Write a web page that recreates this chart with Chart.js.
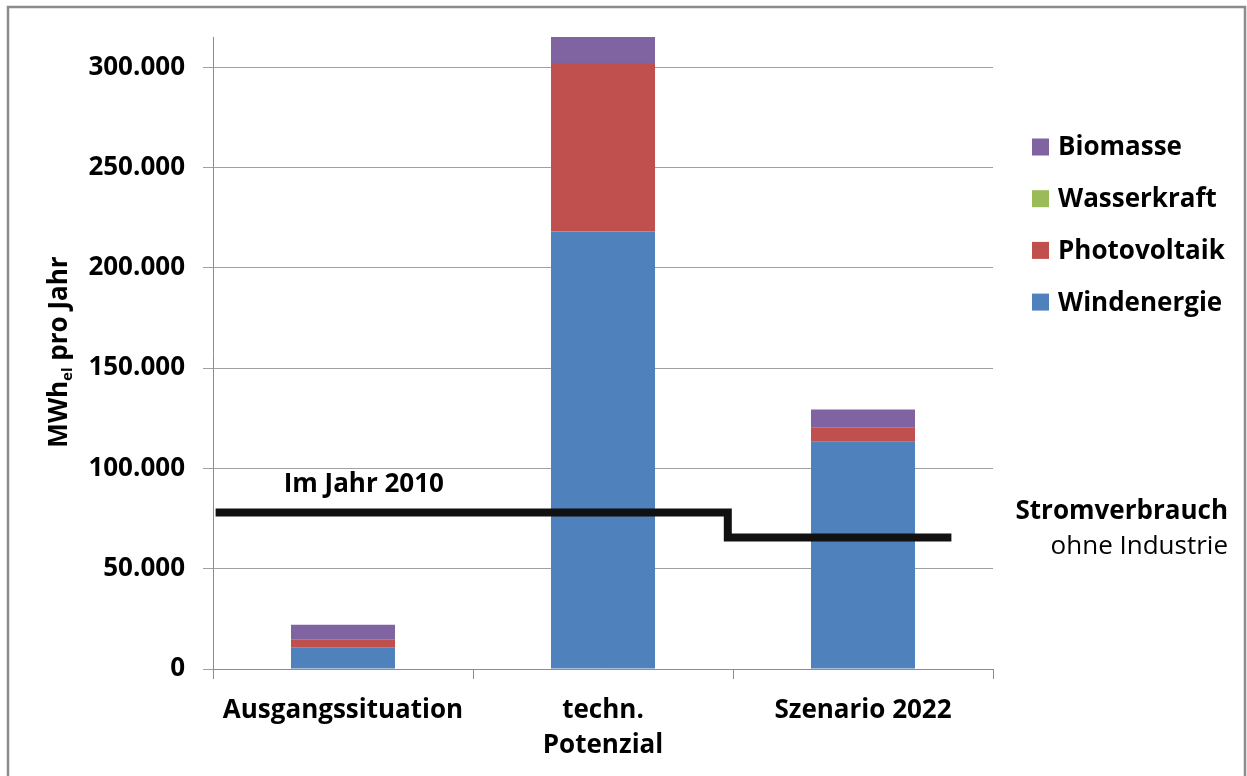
<!DOCTYPE html>
<html>
<head>
<meta charset="utf-8">
<title>Stromerzeugung erneuerbare Energien</title>
<script src="https://cdn.jsdelivr.net/npm/chart.js@4.4.1/dist/chart.umd.min.js"></script>
<style>
    html, body { margin: 0; padding: 0; background: #fff; }
    canvas { display: block; }
</style>
</head>
<body>
<canvas id="chart" width="1247" height="776"></canvas>
<script>
// Kategorien und Werte (MWh_el pro Jahr)
const categories = ['Ausgangssituation', ['techn.', 'Potenzial'], 'Szenario 2022'];
const windenergie = [10800, 218000, 113300];
const photovoltaik = [3800, 84000, 7000];
const wasserkraft = [0, 0, 0];
const biomasse = [7500, 13000, 9100];

// Stromverbrauch ohne Industrie als Stufenlinie
const verbrauchX = [-0.49, 1.48, 1.48, 2.34];
const verbrauchY = [78000, 78000, 65500, 65500];

const yTicks = [0, 50000, 100000, 150000, 200000, 250000, 300000];
const yMax = 315000;

const FONT = '"Open Sans", sans-serif';
Chart.defaults.font.family = FONT;
Chart.defaults.color = '#000';

function fmt(v) {
    return String(v).replace(/\B(?=(\d{3})+(?!\d))/g, '.');
}

const legendItems = [
    { label: 'Biomasse', color: '#8064A2' },
    { label: 'Wasserkraft', color: '#9BBB59' },
    { label: 'Photovoltaik', color: '#C0504D' },
    { label: 'Windenergie', color: '#4F81BD' }
];

const extras = {
    id: 'extras',
    beforeDraw(chart) {
        const ctx = chart.ctx;
        ctx.save();
        ctx.fillStyle = '#fff';
        ctx.fillRect(0, 0, chart.width, chart.height);
        ctx.strokeStyle = '#8c8c8c';
        ctx.lineWidth = 2.5;
        ctx.strokeRect(8, 7, 1237, 820);
        ctx.restore();
    },
    afterDraw(chart) {
        const ctx = chart.ctx;
        const area = chart.chartArea;
        const y = chart.scales.y;
        const x2 = chart.scales.x2;
        ctx.save();

        // Achsentitel mit tiefgestelltem "el"
        ctx.translate(67, 352);
        ctx.rotate(-Math.PI / 2);
        ctx.textBaseline = 'alphabetic';
        ctx.font = 'bold 26px ' + FONT;
        const w1 = ctx.measureText('MWh').width;
        const w3 = ctx.measureText(' pro Jahr').width;
        ctx.font = 'bold 15px ' + FONT;
        const w2 = ctx.measureText('el').width;
        let tx = -(w1 + w2 + w3) / 2;
        ctx.fillStyle = '#000';
        ctx.font = 'bold 26px ' + FONT;
        ctx.fillText('MWh', tx, 0);
        tx += w1;
        ctx.font = 'bold 15px ' + FONT;
        ctx.fillText('el', tx, 5);
        tx += w2;
        ctx.font = 'bold 26px ' + FONT;
        ctx.fillText(' pro Jahr', tx, 0);
        ctx.setTransform(1, 0, 0, 1, 0, 0);

        // Legende
        ctx.font = 'bold 26px ' + FONT;
        ctx.textAlign = 'left';
        ctx.textBaseline = 'middle';
        legendItems.forEach((it, i) => {
            const cy = 147 + i * 51.7;
            ctx.fillStyle = it.color;
            ctx.fillRect(area.right + 39, cy - 8.5, 17, 17);
            ctx.fillStyle = '#000';
            ctx.fillText(it.label, area.right + 65, cy + 1);
        });

        // Beschriftung der Verbrauchslinie
        ctx.textAlign = 'center';
        ctx.fillText('Im Jahr 2010', x2.getPixelForValue(0.08), y.getPixelForValue(verbrauchY[0]) - 28);

        ctx.textAlign = 'right';
        ctx.fillText('Stromverbrauch', area.right + 235, y.getPixelForValue(verbrauchY[0]) - 1);
        ctx.font = '26px ' + FONT;
        ctx.fillText('ohne Industrie', area.right + 235, y.getPixelForValue(verbrauchY[0]) + 34);
        ctx.restore();
    }
};

const barOpts = { categoryPercentage: 1, barPercentage: 0.4, borderWidth: 0, order: 1, grouped: false };

new Chart(document.getElementById('chart'), {
    type: 'bar',
    data: {
        labels: categories,
        datasets: [
            { label: 'Windenergie', data: windenergie, backgroundColor: '#4F81BD', ...barOpts },
            { label: 'Photovoltaik', data: photovoltaik, backgroundColor: '#C0504D', ...barOpts },
            { label: 'Wasserkraft', data: wasserkraft, backgroundColor: '#9BBB59', ...barOpts },
            { label: 'Biomasse', data: biomasse, backgroundColor: '#8064A2', ...barOpts },
            {
                type: 'line',
                label: 'Stromverbrauch',
                data: verbrauchX.map((v, i) => ({ x: v, y: verbrauchY[i] })),
                xAxisID: 'x2',
                borderColor: '#111',
                borderWidth: 8,
                pointRadius: 0,
                tension: 0,
                fill: false,
                order: 0,
                borderCapStyle: 'butt',
                borderJoinStyle: 'miter'
            }
        ]
    },
    options: {
        responsive: false,
        animation: false,
        layout: { padding: { top: 37, right: 254, left: 0, bottom: 0 } },
        plugins: {
            legend: { display: false },
            tooltip: { enabled: false }
        },
        scales: {
            x: {
                stacked: true,
                offset: true,
                grid: { offset: true, drawOnChartArea: false, drawTicks: true, tickLength: 10, color: '#8c8c8c' },
                border: { color: '#8c8c8c', width: 1 },
                ticks: {
                    font: { size: 26, weight: 'bold', lineHeight: 1.36 },
                    padding: 14,
                    maxRotation: 0,
                    autoSkip: false
                },
                afterFit(scale) { scale.height = 107; }
            },
            x2: {
                type: 'linear',
                display: false,
                offset: false,
                min: -0.5,
                max: 2.5
            },
            y: {
                stacked: true,
                min: 0,
                max: yMax,
                afterBuildTicks(scale) {
                    scale.ticks = yTicks.map(v => ({ value: v }));
                },
                grid: { color: '#a0a0a0', tickLength: 10, drawTicks: true },
                border: { color: '#8c8c8c', width: 1 },
                ticks: {
                    font: { size: 26, weight: 'bold' },
                    padding: 18,
                    callback: v => fmt(v)
                },
                afterFit(scale) { scale.width = 213; }
            }
        }
    },
    plugins: [extras]
});
</script>
</body>
</html>
